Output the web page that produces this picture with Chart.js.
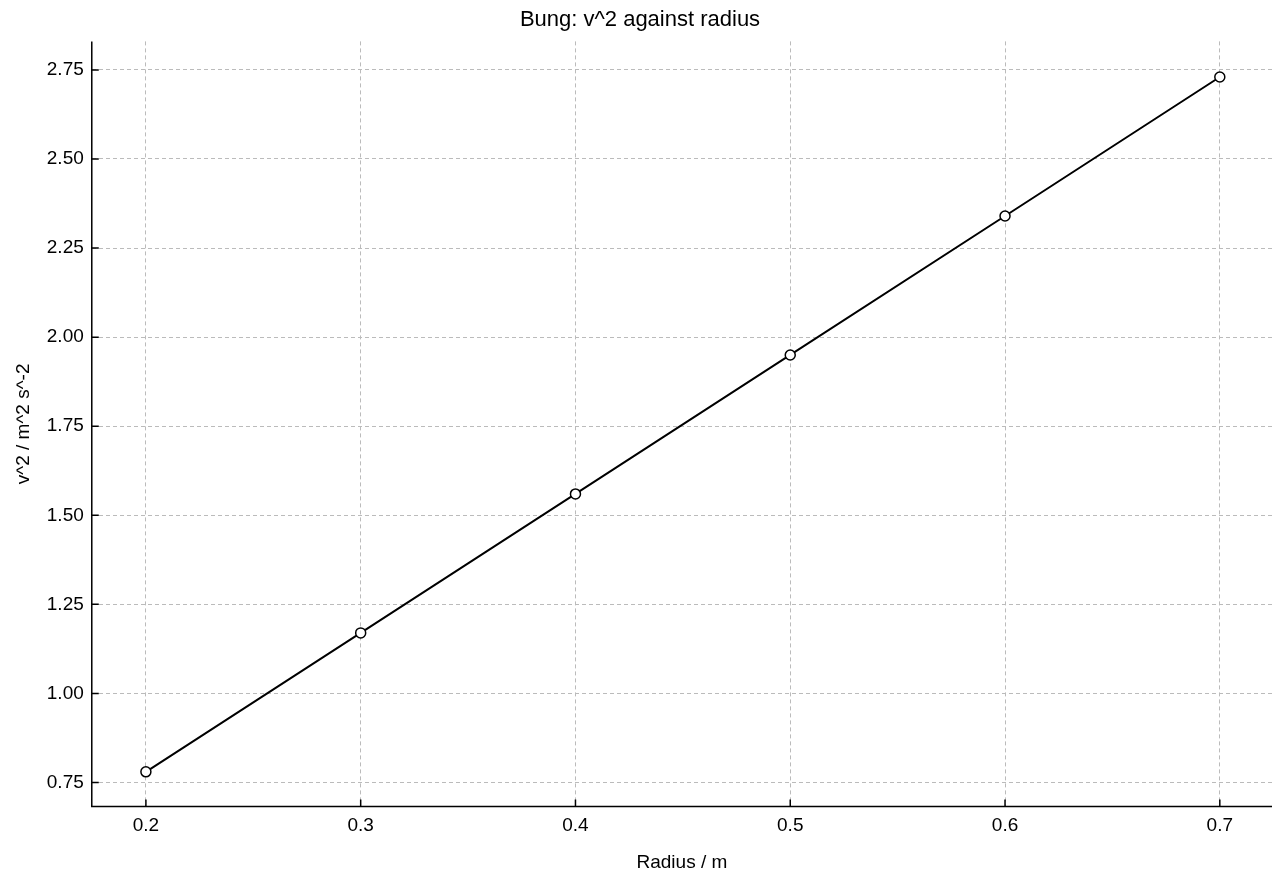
<!DOCTYPE html>
<html><head><meta charset="utf-8">
<script src="https://cdn.jsdelivr.net/npm/chart.js@4/dist/chart.umd.min.js"></script>
<style>html,body{margin:0;padding:0;background:#fff}</style>
</head><body>
<canvas id="c" width="1280" height="880"></canvas>
<script>
const radius = [0.2, 0.3, 0.4, 0.5, 0.6, 0.7];
const vSquared = [0.78, 1.17, 1.56, 1.95, 2.34, 2.73];
const xTicks = [0.2, 0.3, 0.4, 0.5, 0.6, 0.7];
const yTicks = [0.75, 1.00, 1.25, 1.50, 1.75, 2.00, 2.25, 2.50, 2.75];

const FONT = '"Liberation Sans", Arial, sans-serif';
Chart.defaults.font.family = FONT;
Chart.defaults.color = '#000';

const axesPlugin = {
  id: 'axesPlugin',
  afterDraw(chart) {
    const ctx = chart.ctx, a = chart.chartArea;
    const xs = chart.scales.x, ys = chart.scales.y;
    ctx.save();
    ctx.setLineDash([]);
    ctx.strokeStyle = '#000'; ctx.lineWidth = 1.5;
    ctx.beginPath();
    ctx.moveTo(a.left, a.top); ctx.lineTo(a.left, a.bottom); ctx.lineTo(a.right, a.bottom);
    xTicks.forEach(v => { const p = xs.getPixelForValue(v); ctx.moveTo(p, a.bottom); ctx.lineTo(p, a.bottom - 7); });
    yTicks.forEach(v => { const p = ys.getPixelForValue(v); ctx.moveTo(a.left, p); ctx.lineTo(a.left + 7, p); });
    ctx.stroke();
    ctx.restore();
  }
};

new Chart(document.getElementById('c'), {
  type: 'scatter',
  data: { datasets: [{
    data: radius.map((r, i) => ({ x: r, y: vSquared[i] })),
    showLine: true, borderColor: '#000', borderWidth: 2,
    pointRadius: 5, pointBackgroundColor: '#fff', pointBorderColor: '#000', pointBorderWidth: 1.5
  }]},
  options: {
    responsive: false, animation: false,
    layout: { padding: { left: 8, right: 8, top: 3, bottom: 2 } },
    plugins: {
      legend: { display: false }, tooltip: { enabled: false },
      title: { display: true, text: 'Bung: v^2 against radius', font: { size: 22, weight: 'normal' }, color: '#000', padding: { top: 4, bottom: 8 } }
    },
    scales: {
      x: {
        type: 'linear', min: 0.1748, max: 0.7243,
        afterBuildTicks: s => { s.ticks = xTicks.map(v => ({ value: v })); },
        ticks: { font: { size: 19 }, color: '#000', padding: 8, callback: v => v.toFixed(1) },
        grid: { color: '#bbb', lineWidth: 1, drawTicks: false },
        border: { display: false, dash: [4, 3] },
        title: { display: true, text: 'Radius / m', font: { size: 19 }, color: '#000', padding: { top: 6 } }
      },
      y: {
        type: 'linear', min: 0.683, max: 2.83,
        afterBuildTicks: s => { s.ticks = yTicks.map(v => ({ value: v })); },
        ticks: { font: { size: 19 }, color: '#000', padding: 8, callback: v => v.toFixed(2) },
        grid: { color: '#bbb', lineWidth: 1, drawTicks: false },
        border: { display: false, dash: [4, 3] },
        title: { display: true, text: 'v^2 / m^2 s^-2', font: { size: 19 }, color: '#000', padding: { bottom: 4 } }
      }
    }
  },
  plugins: [axesPlugin]
});
</script>
</body></html>
